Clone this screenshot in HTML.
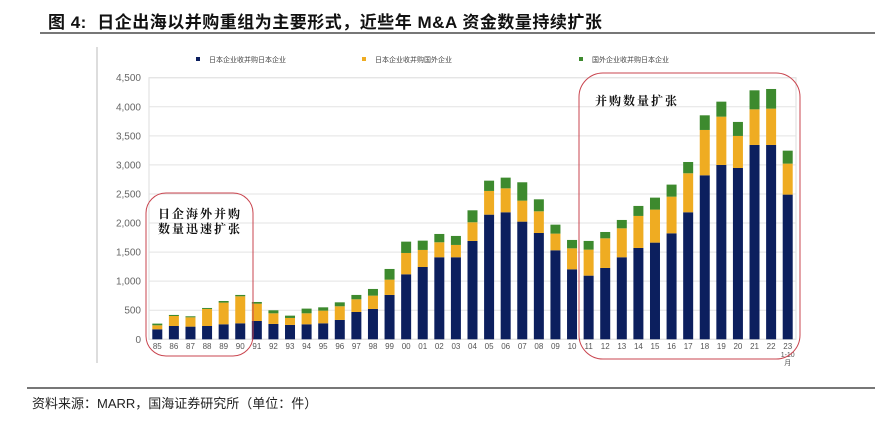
<!DOCTYPE html>
<html><head><meta charset="utf-8"><style>
body{margin:0;width:875px;height:422px;background:#fff;overflow:hidden;position:relative;font-family:"Liberation Sans","Noto Sans CJK SC",sans-serif}
.title{position:absolute;left:48px;top:8px;font-size:17px;font-weight:bold;color:#111;letter-spacing:0.5px}
.src{position:absolute;left:32px;top:393px;font-size:13px;color:#222}
</style></head><body>
<div class="title">图 4:&nbsp; 日企出海以并购重组为主要形式，近些年 M&amp;A 资金数量持续扩张</div>
<div style="position:absolute;left:40px;top:32px;width:835px;height:2px;background:#777"></div>
<div style="position:absolute;left:27px;top:387px;width:848px;height:2px;background:#777"></div>
<div class="src">资料来源：MARR，国海证券研究所（单位：件）</div>
<svg id="chart" width="875" height="422" style="position:absolute;left:0;top:0"></svg>
<script>
const categories=["85","86","87","88","89","90","91","92","93","94","95","96","97","98","99","00","01","02","03","04","05","06","07","08","09","10","11","12","13","14","15","16","17","18","19","20","21","22","23"];
const domestic=[172,229,218,229,258,275,315,264,247,258,275,333,470,522,763,1118,1244,1411,1411,1692,2144,2185,2024,1829,1531,1204,1095,1227,1411,1571,1663,1823,2185,2821,2999,2947,3343,3343,2489];
const outbound=[69,172,160,293,373,465,298,183,120,189,218,235,218,229,263,367,293,258,212,321,408,412,361,373,287,361,447,510,498,551,568,631,671,780,831,551,613,625,533];
const inbound=[29,18,18,17,28,23,29,52,40,81,57,68,75,115,184,195,160,143,155,206,177,184,316,206,154,144,150,109,144,172,206,207,194,252,258,241,327,338,223];
const yTicks=[0,500,1000,1500,2000,2500,3000,3500,4000,4500];
const yTickLabels=["0","500","1,000","1,500","2,000","2,500","3,000","3,500","4,000","4,500"];
const seriesNames=["日本企业收并购日本企业","日本企业收并购国外企业","国外企业收并购日本企业"];
const colors=["#0c1f5e","#efac22","#3d8a2e"];
const svg=document.getElementById('chart');
const NS='http://www.w3.org/2000/svg';
const x0=149,x1=796,yBase=339.3,yTopPx=77.7,yMax=4500;
const step=(x1-x0)/categories.length;
const y=v=>yBase-(v/yMax)*(yBase-yTopPx);
const xc=i=>x0+step*(i+0.5);
function mk(t,a){const e=document.createElementNS(NS,t);for(const k in a)e.setAttribute(k,a[k]);svg.appendChild(e);return e;}
let e=mk('line',{x1:97,y1:47,x2:97,y2:363,stroke:'#bbb','stroke-width':1});


e=mk('rect',{x:x0,y:yTopPx,width:x1-x0,height:yBase-yTopPx,fill:'none',stroke:'#ddd','stroke-width':1});


yTicks.forEach((t,i)=>{
 const g=mk('line',{x1:x0,x2:x1,y1:y(t),y2:y(t),stroke:'#e3e3e3','stroke-width':1});
 
 
 const l=mk('text',{x:141,y:y(t)+3.5,'text-anchor':'end','font-size':10,fill:'#666'});
 l.textContent=yTickLabels[i];
 
 
});
categories.forEach((c,i)=>{
 const vals=[domestic[i],outbound[i],inbound[i]];let acc=0;
 vals.forEach((v,s)=>{
  const r=mk('rect',{x:xc(i)-5,y:y(acc+v),width:10,height:y(acc)-y(acc+v),fill:colors[s]});
  
  
  acc+=v;
 });
 const t=mk('text',{x:xc(i),y:349,'text-anchor':'middle','font-size':8,fill:'#555'});
 t.textContent=c;
 
 
});
let t2=mk('text',{x:xc(38),y:357,'text-anchor':'middle','font-size':7,fill:'#555'});t2.textContent='1-10';


t2=mk('text',{x:xc(38),y:365,'text-anchor':'middle','font-size':7,fill:'#555'});t2.textContent='月';


const legX=[196,362,579];
seriesNames.forEach((n,s)=>{
 const r=mk('rect',{x:legX[s],y:57,width:4,height:4,fill:colors[s]});
 
 
 const t=mk('text',{x:legX[s]+13,y:62,'font-size':7,fill:'#444'});
 t.textContent=n;
 
 
});
e=mk('rect',{x:146,y:193,width:107,height:163,rx:20,fill:'none',stroke:'#c9454f','stroke-width':1});


e=mk('rect',{x:579,y:73,width:221,height:286,rx:24,fill:'none',stroke:'#c9454f','stroke-width':1});


const notes=[["日企海外并购",200,218],["数量迅速扩张",200,233],["并购数量扩张",637,105]];
notes.forEach(n=>{
 const t=mk('text',{x:n[1],y:n[2],'text-anchor':'middle','font-size':12,'font-weight':'bold',fill:'#111','font-family':'"Noto Serif CJK SC",serif','letter-spacing':2});
 t.textContent=n[0];
 
 
});
</script>
</body></html>
